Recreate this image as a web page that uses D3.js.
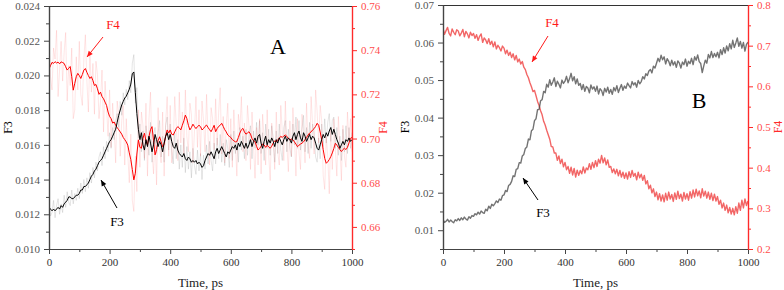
<!DOCTYPE html>
<html><head><meta charset="utf-8">
<script src="https://cdn.jsdelivr.net/npm/d3@7"></script>
<style>body{margin:0;background:#fff} svg{display:block}</style>
</head><body><svg width="784" height="290"></svg>
<script>
// time axis, ps (samples every 5 ps)
const timePs = d3.range(0, 1001, 5);
const xTicks = [0, 200, 400, 600, 800, 1000];

// Panel A — F3 smoothed, F4 smoothed, and raw (faint) traces
const F3A_smooth = [
0.0124,0.0123,0.0122,0.0123,0.0122,0.0123,0.0124,0.0123,0.0125,0.0124,
0.0126,0.0127,0.0128,0.0130,0.0130,0.0129,0.0129,0.0130,0.0131,0.0131,
0.0132,0.0134,0.0134,0.0136,0.0136,0.0137,0.0138,0.0140,0.0142,0.0143,
0.0145,0.0146,0.0148,0.0150,0.0151,0.0152,0.0154,0.0156,0.0158,0.0160,
0.0162,0.0163,0.0165,0.0167,0.0169,0.0173,0.0177,0.0180,0.0183,0.0185,
0.0187,0.0188,0.0190,0.0192,0.0195,0.0201,0.0202,0.0190,0.0178,0.0169,
0.0163,0.0167,0.0160,0.0157,0.0163,0.0159,0.0165,0.0161,0.0156,0.0160,
0.0166,0.0163,0.0159,0.0162,0.0160,0.0156,0.0161,0.0165,0.0167,0.0163,
0.0166,0.0162,0.0159,0.0158,0.0161,0.0157,0.0155,0.0154,0.0153,0.0155,
0.0152,0.0151,0.0153,0.0152,0.0150,0.0151,0.0150,0.0151,0.0149,0.0150,
0.0149,0.0147,0.0148,0.0151,0.0153,0.0155,0.0154,0.0156,0.0154,0.0152,
0.0156,0.0158,0.0155,0.0157,0.0159,0.0157,0.0155,0.0153,0.0156,0.0155,
0.0157,0.0159,0.0158,0.0160,0.0157,0.0161,0.0159,0.0162,0.0160,0.0158,
0.0161,0.0158,0.0160,0.0163,0.0159,0.0162,0.0164,0.0161,0.0165,0.0166,
0.0161,0.0158,0.0162,0.0165,0.0160,0.0163,0.0161,0.0164,0.0162,0.0159,
0.0163,0.0161,0.0164,0.0162,0.0160,0.0163,0.0165,0.0162,0.0164,0.0163,
0.0161,0.0165,0.0167,0.0163,0.0166,0.0168,0.0164,0.0162,0.0167,0.0165,
0.0162,0.0164,0.0166,0.0163,0.0165,0.0164,0.0161,0.0158,0.0157,0.0160,
0.0163,0.0166,0.0164,0.0167,0.0165,0.0168,0.0170,0.0166,0.0169,0.0166,
0.0163,0.0161,0.0158,0.0160,0.0162,0.0160,0.0163,0.0162,0.0164,0.0162,
0.0163];
const F4A_smooth = [
0.7315,0.7330,0.7345,0.7340,0.7348,0.7342,0.7346,0.7338,0.7347,0.7344,
0.7340,0.7325,0.7310,0.7318,0.7326,0.7280,0.7219,0.7250,0.7280,0.7295,
0.7285,0.7272,0.7290,0.7310,0.7317,0.7300,0.7285,0.7272,0.7280,0.7262,
0.7240,0.7245,0.7225,0.7200,0.7210,0.7190,0.7180,0.7165,0.7150,0.7120,
0.7100,0.7090,0.7070,0.7075,0.7060,0.7050,0.7040,0.7030,0.7020,0.7005,
0.6995,0.6985,0.6970,0.6935,0.6905,0.6860,0.6813,0.6843,0.6930,0.6994,
0.6960,0.6956,0.7000,0.7024,0.6990,0.6971,0.7010,0.7040,0.7054,0.6990,
0.6926,0.6950,0.6990,0.7008,0.6985,0.6963,0.6975,0.7010,0.7039,0.7025,
0.7039,0.7020,0.7016,0.7030,0.7045,0.7054,0.7048,0.7039,0.7060,0.7080,
0.7106,0.7090,0.7060,0.7039,0.7050,0.7065,0.7054,0.7045,0.7054,0.7060,
0.7054,0.7039,0.7045,0.7055,0.7061,0.7050,0.7040,0.7031,0.7045,0.7060,
0.7031,0.7045,0.7055,0.7060,0.7069,0.7055,0.7040,0.7030,0.7016,0.7010,
0.7005,0.6995,0.6990,0.6985,0.6986,0.7005,0.7025,0.7040,0.7046,0.7030,
0.7020,0.7025,0.7031,0.7020,0.7000,0.6990,0.6986,0.6965,0.6948,0.6955,
0.6965,0.6975,0.6971,0.6960,0.6970,0.6962,0.6956,0.6965,0.6980,0.6990,
0.6985,0.6995,0.7001,0.7010,0.7005,0.7012,0.7016,0.7010,0.7000,0.6994,
0.6998,0.6994,0.6985,0.6975,0.6963,0.6970,0.6975,0.6979,0.6985,0.6995,
0.7005,0.7016,0.7025,0.7030,0.7039,0.7045,0.7055,0.7069,0.7060,0.7030,
0.6994,0.6950,0.6910,0.6888,0.6895,0.6905,0.6918,0.6935,0.6955,0.6979,
0.6970,0.6960,0.6950,0.6941,0.6950,0.6956,0.6950,0.6960,0.6980,0.7001,
0.7005];
const F3A_raw = [
0.0127,0.0119,0.0121,0.0128,0.0118,0.0125,0.0129,0.0120,0.0126,0.0121,
0.0131,0.0124,0.0133,0.0127,0.0125,0.0134,0.0126,0.0132,0.0128,0.0135,
0.0129,0.0138,0.0132,0.0140,0.0133,0.0141,0.0135,0.0144,0.0138,0.0147,
0.0141,0.0150,0.0145,0.0153,0.0156,0.0148,0.0159,0.0152,0.0162,0.0156,
0.0167,0.0158,0.0170,0.0163,0.0174,0.0178,0.0170,0.0185,0.0177,0.0190,
0.0183,0.0192,0.0186,0.0197,0.0190,0.0207,0.0212,0.0184,0.0193,0.0164,
0.0172,0.0156,0.0168,0.0151,0.0171,0.0163,0.0154,0.0173,0.0150,0.0166,
0.0170,0.0155,0.0167,0.0174,0.0153,0.0165,0.0150,0.0171,0.0176,0.0157,
0.0172,0.0156,0.0149,0.0167,0.0152,0.0163,0.0146,0.0160,0.0147,0.0164,
0.0144,0.0159,0.0146,0.0156,0.0141,0.0158,0.0148,0.0143,0.0157,0.0145,
0.0155,0.0140,0.0154,0.0146,0.0160,0.0149,0.0162,0.0151,0.0145,0.0161,
0.0149,0.0164,0.0152,0.0166,0.0150,0.0161,0.0148,0.0163,0.0158,0.0147,
0.0166,0.0151,0.0168,0.0155,0.0163,0.0150,0.0170,0.0157,0.0165,0.0152,
0.0169,0.0154,0.0165,0.0171,0.0152,0.0168,0.0158,0.0173,0.0160,0.0174,
0.0155,0.0167,0.0151,0.0172,0.0158,0.0169,0.0154,0.0171,0.0163,0.0150,
0.0168,0.0155,0.0172,0.0157,0.0151,0.0170,0.0174,0.0156,0.0169,0.0158,
0.0153,0.0172,0.0160,0.0176,0.0158,0.0174,0.0157,0.0169,0.0177,0.0156,
0.0170,0.0155,0.0173,0.0158,0.0172,0.0166,0.0153,0.0150,0.0164,0.0152,
0.0172,0.0159,0.0175,0.0161,0.0173,0.0178,0.0162,0.0174,0.0176,0.0158,
0.0170,0.0154,0.0165,0.0151,0.0169,0.0156,0.0171,0.0155,0.0170,0.0158,
0.0167];
const F4A_raw = [
0.745,0.728,0.722,0.741,0.736,0.749,0.719,0.731,0.744,0.726,
0.739,0.748,0.717,0.733,0.724,0.741,0.709,0.713,0.737,0.722,
0.744,0.720,0.715,0.736,0.747,0.726,0.712,0.739,0.721,0.734,
0.711,0.735,0.729,0.709,0.717,0.731,0.703,0.726,0.714,0.701,
0.722,0.696,0.716,0.705,0.689,0.717,0.711,0.692,0.708,0.715,
0.688,0.709,0.693,0.680,0.702,0.672,0.667,0.692,0.676,0.713,
0.687,0.712,0.706,0.691,0.716,0.683,0.709,0.721,0.694,0.684,
0.701,0.679,0.714,0.696,0.689,0.712,0.683,0.707,0.719,0.692,
0.715,0.689,0.697,0.719,0.706,0.690,0.721,0.698,0.712,0.693,
0.722,0.701,0.694,0.716,0.711,0.689,0.703,0.719,0.696,0.713,
0.692,0.717,0.708,0.694,0.720,0.701,0.688,0.714,0.709,0.695,
0.718,0.697,0.712,0.723,0.693,0.710,0.689,0.706,0.716,0.691,
0.709,0.687,0.713,0.698,0.683,0.711,0.704,0.719,0.694,0.707,
0.690,0.715,0.706,0.686,0.712,0.697,0.682,0.705,0.688,0.709,
0.684,0.711,0.700,0.688,0.713,0.693,0.681,0.707,0.699,0.686,
0.712,0.694,0.688,0.715,0.703,0.690,0.717,0.697,0.685,0.708,
0.692,0.714,0.701,0.683,0.709,0.694,0.686,0.711,0.703,0.689,
0.716,0.697,0.691,0.719,0.706,0.693,0.722,0.712,0.698,0.715,
0.708,0.683,0.677,0.701,0.692,0.675,0.704,0.686,0.709,0.695,
0.683,0.710,0.697,0.681,0.706,0.692,0.687,0.712,0.699,0.709,
0.694];

// Panel B — F3 and F4 traces
const F3B = [
0.0128,0.0121,0.0124,0.0129,0.0122,0.0127,0.0123,0.0120,0.0128,0.0125,
0.0131,0.0126,0.0133,0.0128,0.0135,0.0130,0.0127,0.0136,0.0132,0.0139,
0.0137,0.0144,0.0141,0.0148,0.0143,0.0151,0.0147,0.0145,0.0156,0.0152,
0.0164,0.0158,0.0169,0.0165,0.0171,0.0178,0.0174,0.0183,0.0180,0.0192,
0.0194,0.0206,0.0203,0.0219,0.0222,0.0230,0.0245,0.0243,0.0262,0.0264,
0.0280,0.0279,0.0298,0.0302,0.0318,0.0322,0.0343,0.0341,0.0365,0.0369,
0.0392,0.0397,0.0421,0.0422,0.0445,0.0448,0.0470,0.0466,0.0489,0.0481,
0.0501,0.0486,0.0495,0.0506,0.0483,0.0497,0.0489,0.0479,0.0500,0.0491,
0.0497,0.0510,0.0493,0.0504,0.0518,0.0498,0.0509,0.0490,0.0503,0.0486,
0.0491,0.0475,0.0488,0.0470,0.0483,0.0479,0.0466,0.0487,0.0476,0.0482,
0.0470,0.0484,0.0463,0.0477,0.0472,0.0459,0.0478,0.0468,0.0481,0.0465,
0.0475,0.0462,0.0480,0.0471,0.0485,0.0467,0.0478,0.0488,0.0473,0.0484,
0.0478,0.0492,0.0485,0.0479,0.0496,0.0487,0.0493,0.0481,0.0499,0.0490,
0.0496,0.0509,0.0503,0.0517,0.0512,0.0524,0.0528,0.0519,0.0537,0.0532,
0.0545,0.0558,0.0549,0.0566,0.0554,0.0562,0.0543,0.0557,0.0550,0.0538,
0.0553,0.0540,0.0549,0.0534,0.0551,0.0545,0.0532,0.0548,0.0541,0.0556,
0.0537,0.0550,0.0544,0.0558,0.0541,0.0562,0.0553,0.0567,0.0549,0.0544,
0.0520,0.0538,0.0553,0.0545,0.0568,0.0559,0.0576,0.0560,0.0571,0.0562,
0.0574,0.0559,0.0581,0.0568,0.0586,0.0572,0.0591,0.0578,0.0597,0.0583,
0.0606,0.0587,0.0599,0.0612,0.0590,0.0603,0.0585,0.0600,0.0577,0.0595,
0.0601];
const F4B = [
0.742,0.728,0.737,0.745,0.730,0.724,0.741,0.733,0.727,0.739,
0.736,0.724,0.731,0.740,0.722,0.735,0.729,0.719,0.733,0.725,
0.730,0.718,0.727,0.713,0.723,0.729,0.708,0.719,0.714,0.705,
0.717,0.703,0.711,0.697,0.709,0.692,0.701,0.695,0.687,0.699,
0.694,0.680,0.689,0.676,0.684,0.671,0.680,0.665,0.676,0.660,
0.667,0.655,0.661,0.647,0.641,0.629,0.621,0.609,0.599,0.587,
0.590,0.577,0.563,0.553,0.540,0.530,0.514,0.505,0.492,0.481,
0.470,0.452,0.451,0.436,0.436,0.418,0.429,0.410,0.421,0.402,
0.413,0.395,0.403,0.386,0.401,0.382,0.398,0.377,0.394,0.381,
0.393,0.385,0.402,0.387,0.399,0.395,0.410,0.396,0.413,0.400,
0.417,0.403,0.421,0.411,0.430,0.412,0.424,0.407,0.419,0.401,
0.403,0.388,0.397,0.385,0.396,0.380,0.393,0.377,0.389,0.374,
0.387,0.372,0.390,0.376,0.393,0.379,0.386,0.370,0.389,0.375,
0.384,0.369,0.381,0.360,0.368,0.348,0.357,0.338,0.348,0.329,
0.340,0.321,0.336,0.318,0.333,0.316,0.337,0.320,0.340,0.323,
0.334,0.317,0.338,0.322,0.342,0.324,0.335,0.318,0.339,0.323,
0.336,0.320,0.341,0.325,0.345,0.328,0.347,0.331,0.343,0.326,
0.348,0.330,0.342,0.325,0.340,0.322,0.337,0.319,0.335,0.318,
0.329,0.310,0.320,0.301,0.313,0.295,0.308,0.289,0.302,0.286,
0.300,0.284,0.304,0.288,0.313,0.295,0.320,0.301,0.323,0.307,
0.318];

const leftTicksA = [0.010,0.012,0.014,0.016,0.018,0.020,0.022,0.024];
const rightTicksA = [0.66,0.68,0.70,0.72,0.74,0.76];
const leftTicksB = [0.01,0.02,0.03,0.04,0.05,0.06,0.07];
const rightTicksB = [0.2,0.3,0.4,0.5,0.6,0.7,0.8];

const svg = d3.select("svg");
const AXC = "#444", RED = "#ff2a2a";
const SERIF = "'Liberation Serif', 'Times New Roman', Times, serif";

function panel(c){
  const g = svg.append("g");
  const x = d3.scaleLinear().domain([0,1000]).range([c.x0,c.x1]);
  const yl = d3.scaleLinear().domain(c.ldom).range([c.y1,c.y0]);
  const yr = d3.scaleLinear().domain(c.rdom).range([c.y1,c.y0]);
  const id = "clip"+c.name;
  svg.append("clipPath").attr("id",id).append("rect")
    .attr("x",c.x0).attr("y",c.y0).attr("width",c.x1-c.x0).attr("height",c.y1-c.y0);
  const plot = g.append("g").attr("clip-path",`url(#${id})`);
  c.series.forEach(s=>{
    const sc = s.axis==="l"?yl:yr;
    plot.append("path").datum(s.data)
      .attr("fill","none").attr("stroke",s.color).attr("stroke-width",s.w)
      .attr("stroke-opacity",s.op).attr("stroke-linejoin","round")
      .attr("d",d3.line().x((d,i)=>x(timePs[i])).y(d=>sc(d)));
  });
  g.append("line").attr("x1",c.x0).attr("x2",c.x1).attr("y1",c.y0+0.5).attr("y2",c.y0+0.5)
    .attr("stroke","#333").attr("stroke-width",1.2);
  const styleAxis=(sel,col,lab)=>{
    sel.select(".domain").attr("stroke",col).attr("stroke-width",1.2);
    sel.selectAll(".tick line").attr("stroke",col);
    sel.selectAll(".tick text").attr("fill",lab).attr("font-size",11);
  };
  const xMinor = d3.range(100,1000,200);
  styleAxis(g.append("g").attr("transform",`translate(0,${c.y1})`)
    .call(d3.axisBottom(x).tickValues(xMinor).tickSize(3).tickFormat("").tickSizeOuter(0)),AXC,AXC);
  styleAxis(g.append("g").attr("transform",`translate(0,${c.y1})`)
    .call(d3.axisBottom(x).tickValues(xTicks).tickSize(5).tickPadding(4).tickSizeOuter(0).tickFormat(d3.format("d"))),AXC,"#333");
  styleAxis(g.append("g").attr("transform",`translate(${c.x0},0)`)
    .call(d3.axisLeft(yl).tickValues(c.lminor).tickSize(3).tickFormat("").tickSizeOuter(0)),AXC,AXC);
  styleAxis(g.append("g").attr("transform",`translate(${c.x0},0)`)
    .call(d3.axisLeft(yl).tickValues(c.lticks).tickSize(5).tickPadding(4).tickSizeOuter(0).tickFormat(d3.format(c.lfmt))),AXC,"#555");
  styleAxis(g.append("g").attr("transform",`translate(${c.x1},0)`)
    .call(d3.axisRight(yr).tickValues(c.rminor).tickSize(3).tickFormat("").tickSizeOuter(0)),RED,RED);
  styleAxis(g.append("g").attr("transform",`translate(${c.x1},0)`)
    .call(d3.axisRight(yr).tickValues(c.rticks).tickSize(5).tickPadding(4).tickSizeOuter(0).tickFormat(d3.format(c.rfmt))),RED,"#ff4d4d");
  const cy=(c.y0+c.y1)/2;
  g.append("text").attr("transform",`translate(${c.lTitleX},${cy}) rotate(-90)`)
    .attr("text-anchor","middle").attr("font-size",12).attr("fill","#000").text("F3");
  g.append("text").attr("transform",`translate(${c.rTitleX},${cy}) rotate(-90)`)
    .attr("text-anchor","middle").attr("font-size",12).attr("fill",RED).text("F4");
  g.append("text").attr("x",(c.x0+c.x1)/2).attr("y",287).attr("text-anchor","middle")
    .attr("font-size",13).attr("fill","#222").text("Time, ps");
  g.append("text").attr("x",c.letter[0]).attr("y",c.letter[1]).attr("text-anchor","middle")
    .attr("font-size",22).attr("fill","#000").text(c.name);
  c.notes.forEach(n=>{
    g.append("text").attr("x",n.tx).attr("y",n.ty).attr("text-anchor","middle")
      .attr("font-size",13).attr("fill",n.color).text(n.label);
    const [x1,y1,x2,y2]=n.arrow;
    g.append("line").attr("x1",x1).attr("y1",y1).attr("x2",x2).attr("y2",y2)
      .attr("stroke",n.color).attr("stroke-width",1);
    const ang=Math.atan2(y2-y1,x2-x1), L=6, W=2.6;
    const p=[[x2,y2],[x2-L*Math.cos(ang)+W*Math.sin(ang),y2-L*Math.sin(ang)-W*Math.cos(ang)],
             [x2-L*Math.cos(ang)-W*Math.sin(ang),y2-L*Math.sin(ang)+W*Math.cos(ang)]];
    g.append("path").attr("d","M"+p.join("L")+"Z").attr("fill",n.color);
  });
}

panel({name:"A", x0:49, x1:352, y0:6, y1:249,
  ldom:[0.010,0.024], rdom:[0.65,0.76],
  lticks:leftTicksA, lminor:d3.range(0.011,0.024,0.002), lfmt:".3f",
  rticks:rightTicksA, rminor:[0.65,0.67,0.69,0.71,0.73,0.75], rfmt:".2f",
  lTitleX:12, rTitleX:387, letter:[278,54],
  series:[
    {data:F3A_raw, axis:"l", color:"#8a8a8a", w:0.8, op:0.28},
    {data:F4A_raw, axis:"r", color:"#ff4040", w:0.8, op:0.17},
    {data:F4A_smooth, axis:"r", color:"#ff0000", w:1, op:1},
    {data:F3A_smooth, axis:"l", color:"#000", w:1, op:1}
  ],
  notes:[
    {label:"F4", color:"#ff1a1a", tx:113, ty:29, arrow:[103,37,87,57]},
    {label:"F3", color:"#000", tx:117, ty:226, arrow:[117,208,101,180]}
  ]});

panel({name:"B", x0:443, x1:748, y0:5, y1:249,
  ldom:[0.005,0.07], rdom:[0.2,0.8],
  lticks:leftTicksB, lminor:d3.range(0.005,0.07,0.01), lfmt:".2f",
  rticks:rightTicksB, rminor:[0.25,0.35,0.45,0.55,0.65,0.75], rfmt:".1f",
  lTitleX:409, rTitleX:782, letter:[699,108],
  series:[
    {data:F4B, axis:"r", color:"#ee3333", w:1.4, op:0.75},
    {data:F3B, axis:"l", color:"#444", w:1.4, op:0.75}
  ],
  notes:[
    {label:"F4", color:"#ff1a1a", tx:552, ty:27, arrow:[548,36,532,62]},
    {label:"F3", color:"#000", tx:543, ty:217, arrow:[538,200,523,178]}
  ]});

svg.selectAll("text").style("font-family", SERIF);
</script></body></html>
